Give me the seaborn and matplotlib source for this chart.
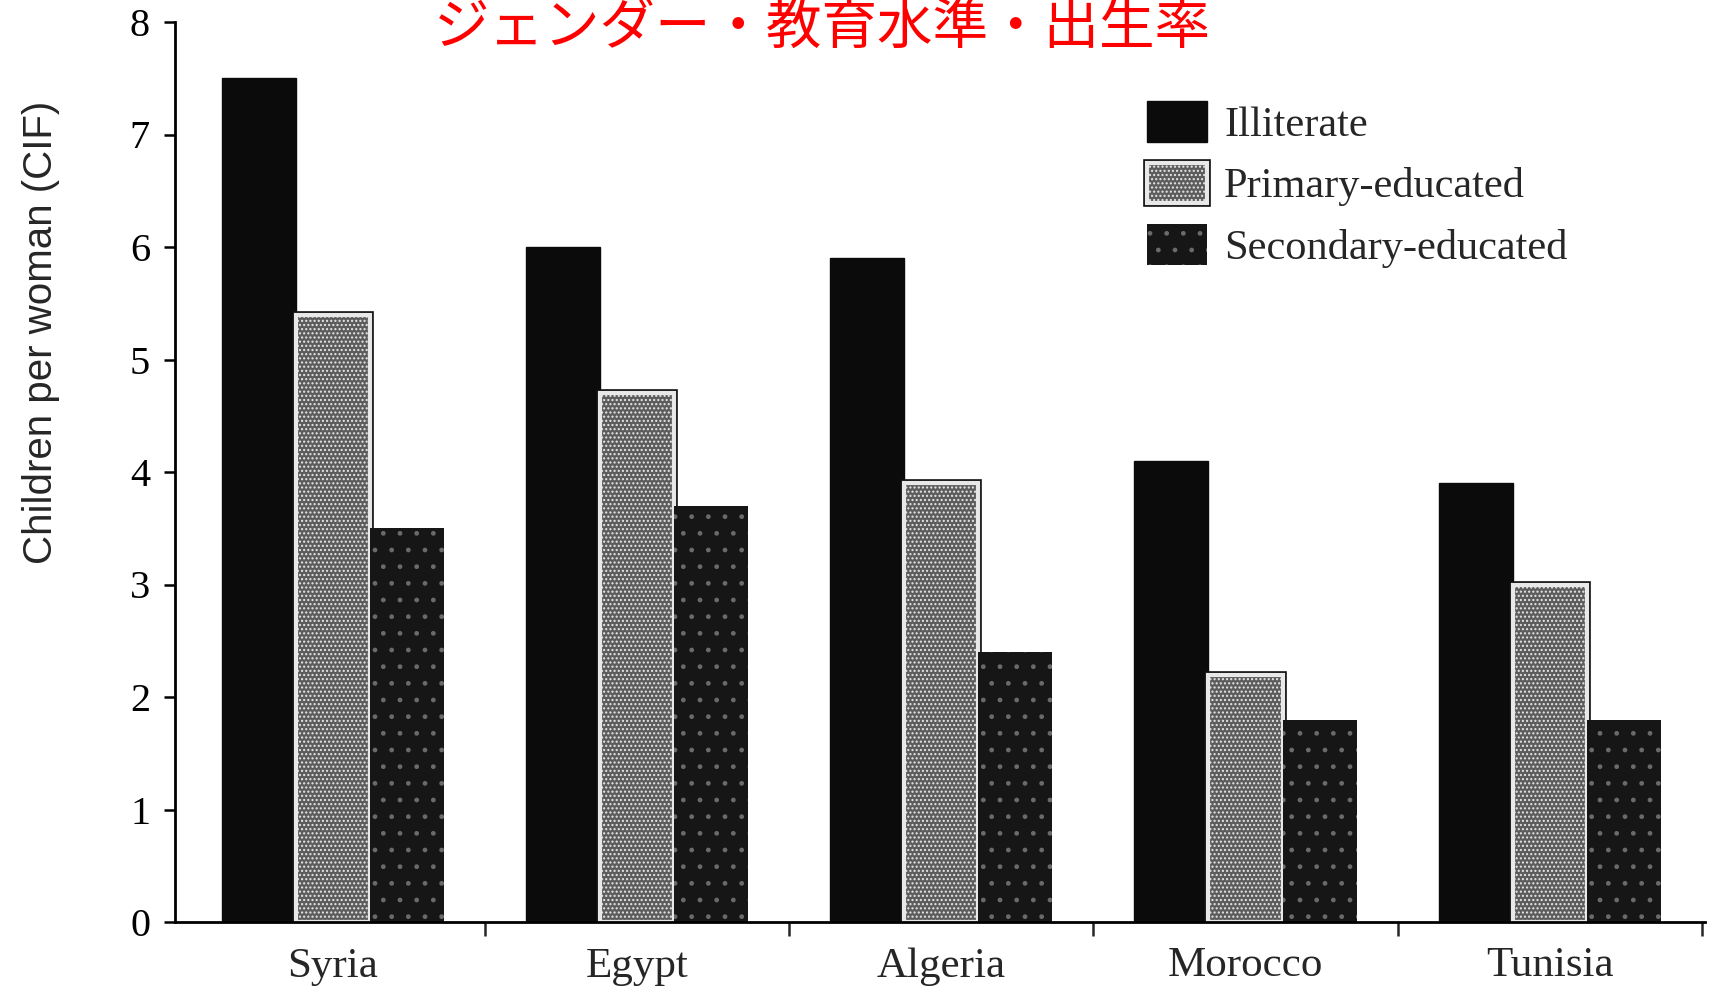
import numpy as np
import pandas as pd
import matplotlib
matplotlib.use("Agg")
import matplotlib.pyplot as plt
import matplotlib.patheffects as pe
import seaborn as sns

# ---- data ----
countries = ["Syria", "Egypt", "Algeria", "Morocco", "Tunisia"]
levels = ["Illiterate", "Primary-educated", "Secondary-educated"]
illiterate = [7.5, 6.0, 5.9, 4.1, 3.9]
primary = [5.4, 4.7, 3.9, 2.2, 3.0]
secondary = [3.5, 3.7, 2.4, 1.8, 1.8]
yticks = [0, 1, 2, 3, 4, 5, 6, 7, 8]
title = "ジェンダー・教育水準・出生率"
ylabel = "Children per woman (CIF)"

df = pd.DataFrame({
    "country": countries * 3,
    "level": [levels[0]] * 5 + [levels[1]] * 5 + [levels[2]] * 5,
    "value": illiterate + primary + secondary,
})

sns.set_style("white")
plt.rcParams["font.family"] = ["Liberation Serif", "DejaVu Sans"]

fig = plt.figure(figsize=(17.12, 9.93), dpi=100)
ax = fig.add_axes([175 / 1712, 71 / 993, 1530 / 1712, 900 / 993])

face = ["#0b0b0b", "#5c5c5c", "#161616"]
sns.barplot(data=df, x="country", y="value", hue="level", hue_order=levels,
            order=countries, palette=face, saturation=1, width=0.73, gap=0,
            ax=ax, legend=False)

# styling of the three series
for i, cont in enumerate(ax.containers):
    for p in cont.patches:
        if i == 0:
            p.set_edgecolor("#0b0b0b")
            p.set_linewidth(1)
        elif i == 1:
            p.set_edgecolor("#e8e8e8")
            p.set_linewidth(3)
            p.set_hatch("....")
            p.set_path_effects([pe.Stroke(linewidth=5.5, foreground="#111111"), pe.Normal()])
        else:
            p.set_edgecolor("#6a6a6a")
            p.set_linewidth(0)
            p.set_hatch(".")

ax.set_xlim(-0.518, 4.51)
ax.set_ylim(0, 8)
ax.set_yticks(yticks)
ax.set_yticklabels([str(t) for t in yticks])
ax.set_xticks(np.arange(0.5, 5.0, 1.0), minor=True)

for s in ["top", "right"]:
    ax.spines[s].set_visible(False)
for s in ["left", "bottom"]:
    ax.spines[s].set_color("black")
    ax.spines[s].set_linewidth(2)

ax.tick_params(axis="y", which="major", length=8, width=1.8, direction="out",
               labelsize=29, pad=10, colors="black", left=True)
ax.tick_params(axis="x", which="major", length=0, labelsize=31, pad=18)
ax.tick_params(axis="x", which="minor", length=10, width=1.8, direction="out",
               bottom=True)

ax.set_xlabel("")
ax.set_ylabel(ylabel, family=["Liberation Sans", "DejaVu Sans"], fontsize=29)
ax.yaxis.set_label_coords(-0.075, 0.655)

# legend
leg = ax.legend(ax.containers, levels, loc="upper left",
                bbox_to_anchor=(1147 / 1712, 1 - 101 / 993),
                bbox_transform=fig.transFigure, frameon=False,
                fontsize=30.5, handlelength=1.42, handleheight=1.1,
                handletextpad=0.4, labelspacing=0.42, borderpad=0,
                borderaxespad=0)

fig.text(822 / 1712, 1 - 28 / 993, title, color="#ff0000", fontsize=40,
         family=["Noto Sans CJK JP", "DejaVu Sans"], ha="center", va="center")

fig.savefig("out.png", dpi=100, facecolor="white")
